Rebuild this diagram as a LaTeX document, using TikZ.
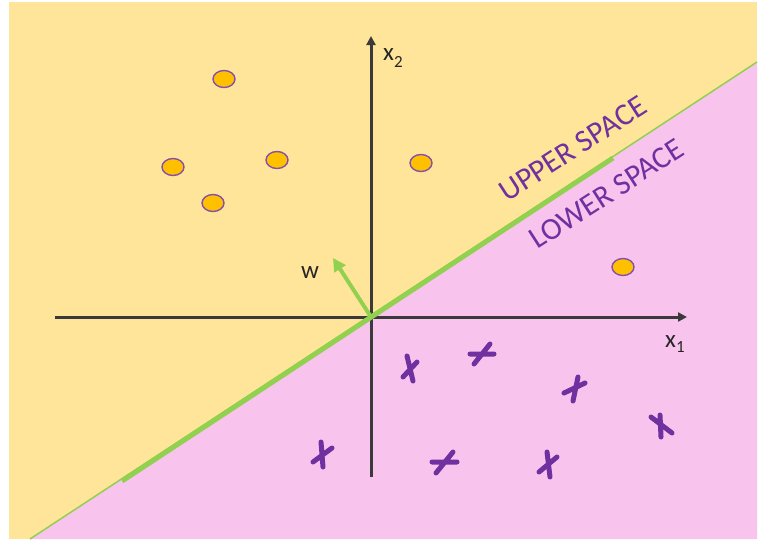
\documentclass[tikz,border=0pt]{standalone}
\usepackage{fontspec}
\setmainfont{Carlito}
\usetikzlibrary{arrows.meta,shapes.geometric}
\definecolor{bgyellow}{HTML}{FFE599}
\definecolor{bgpink}{HTML}{F8C4EE}
\definecolor{lgreen}{HTML}{92D050}
\definecolor{dpurple}{HTML}{7030A0}
\definecolor{axisgray}{HTML}{3A3A3A}
\definecolor{dotfill}{HTML}{FFC000}
\begin{document}
\begin{tikzpicture}[x=1pt,y=-1pt,
  dot/.style={ellipse, draw=dpurple!85, line width=1.4pt, fill=dotfill, minimum width=22pt, minimum height=17pt, inner sep=0pt},
  crs/.style={dpurple, line width=5pt, line cap=round},
  axis/.style={axisgray, line width=3pt, -{Triangle[length=9pt,width=9pt]}},
  spacelbl/.style={text=dpurple, font=\fontsize{31}{31}\selectfont, inner sep=0pt, anchor=base, rotate=32.8},
  axlbl/.style={text=black!85, font=\fontsize{25}{25}\selectfont, inner sep=0pt, anchor=base west}]
\useasboundingbox (0,0) rectangle (762,541);
\fill[white] (0,0) rectangle (762,541);
\fill[bgyellow] (9,2) rectangle (757,539);
\coordinate (BL) at (30,539);
\coordinate (TR) at (757,62);
\coordinate (BR) at (757,539);
\fill[bgpink] (BL) -- (TR) -- (BR) -- cycle;
% axes
\coordinate (O) at (371,317);
\coordinate (XL) at (55,317);
\coordinate (XR) at (687,317);
\coordinate (YB) at (371,477);
\coordinate (YT) at (371,36);
\draw[axis] (XL) -- (XR);
\draw[axis] (YB) -- (YT);
% separating line
\draw[lgreen, line width=1.5pt] (BL) -- (TR);
\coordinate (G1) at (122,481);
\coordinate (G2) at (613,158);
\draw[lgreen, line width=5pt] (G1) -- (G2);
% w vector
\coordinate (W) at (333,258);
\draw[lgreen, line width=4pt, -{Triangle[length=13pt,width=13pt]}] (O) -- (W);
% labels
\node[axlbl] (x2lab) at (383,60) {x\raisebox{-7pt}{\fontsize{17}{17}\selectfont 2}};
\node[axlbl] (x1lab) at (665,347) {x\raisebox{-5pt}{\fontsize{17}{17}\selectfont 1}};
\node[axlbl] (wlab) at (301,278) {w};
\node[spacelbl] (upper) at (578,157) {UPPER SPACE};
\node[spacelbl] (lower) at (612,202) {LOWER SPACE};
% circles
\node[dot] (c1) at (224,79) {};
\node[dot] (c2) at (173,167) {};
\node[dot] (c3) at (277,160) {};
\node[dot] (c4) at (213,203) {};
\node[dot] (c5) at (421,163) {};
\node[dot] (c6) at (623,267) {};
% crosses
\draw[crs] (407,356) -- (413,381) (403,377) -- (417,362);
\draw[crs] (470,354) -- (494,354) (474,364) -- (490,344);
\draw[crs] (564,393) -- (585,383) (578,377) -- (573,401);
\draw[crs] (660,415) -- (661,437) (651,417) -- (672,433);
\draw[crs] (321,442) -- (323,467) (313,462) -- (332,448);
\draw[crs] (432,462) -- (457,462) (436,473) -- (453,452);
\draw[crs] (547,452) -- (550,477) (539,472) -- (557,457);
\end{tikzpicture}
\end{document}
